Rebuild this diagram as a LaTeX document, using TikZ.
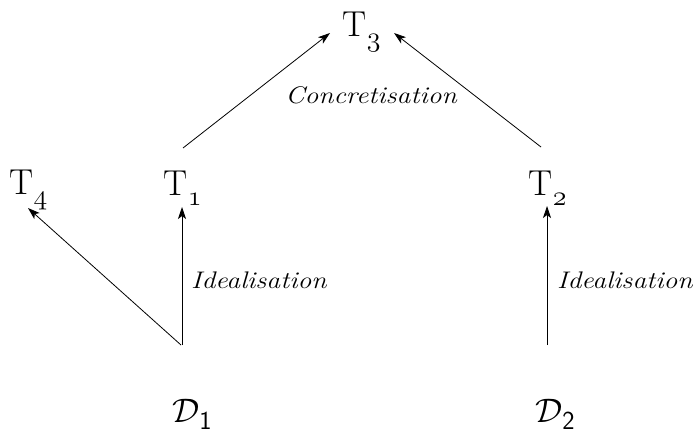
\RequirePackage{fix-cm}
\documentclass[tikz,border=0pt]{standalone}
\usetikzlibrary{arrows.meta}
\newcommand{\tsym}[1]{\fontsize{36}{40}\selectfont T\kern0.5pt\raisebox{-10pt}{\fontsize{28}{28}\selectfont$\mathnormal{#1}$}}
\newcommand{\dsym}[1]{\fontsize{34}{40}\selectfont$\mathcal{D}$\raisebox{-7pt}{\fontsize{26}{26}\selectfont\sffamily #1}}
\newcommand{\lbl}[1]{\scalebox{1.15}[1]{\fontsize{24}{28}\selectfont\itshape #1}}
\begin{document}
\begin{tikzpicture}[x=1pt,y=1pt,
  sym/.style={inner sep=0pt,anchor=base west},
  lab/.style={inner sep=0pt},
  arr/.style={line width=0.8pt,-{Stealth[length=12pt,width=8pt,inset=3pt]}}]
\useasboundingbox (0,0) rectangle (700,432);
\node[sym] (T3) at (342,395) {\tsym{3}};
\node[sym] (T1) at (163,237) {\tsym{1}};
\node[sym] (T4) at (9,238) {\tsym{4}};
\node[sym] (T2) at (528,237) {\tsym{2}};
\node[sym] (D1) at (172,10) {\dsym{1}};
\node[sym] (D2) at (535,10) {\dsym{2}};
\node[lab,anchor=base] (LC) at (371,329) {\lbl{Concretisation}};
\node[lab,anchor=base west] (LI1) at (191,144) {\lbl{Idealisation}};
\node[lab,anchor=base west] (LI2) at (557,144) {\lbl{Idealisation}};
\draw[arr] ([xshift=10pt,yshift=77pt]D1.base west) -- ([xshift=19pt,yshift=-12pt]T1.base west);
\draw[arr] ([xshift=9pt,yshift=77pt]D1.base west) -- ([xshift=19pt,yshift=-14pt]T4.base west);
\draw[arr] ([xshift=12pt,yshift=77pt]D2.base west) -- ([xshift=19pt,yshift=-11pt]T2.base west);
\draw[arr] ([xshift=20pt,yshift=47pt]T1.base west) -- ([xshift=-12pt,yshift=4pt]T3.base west);
\draw[arr] ([xshift=13pt,yshift=48pt]T2.base west) -- ([xshift=52pt,yshift=4pt]T3.base west);
\end{tikzpicture}
\end{document}
